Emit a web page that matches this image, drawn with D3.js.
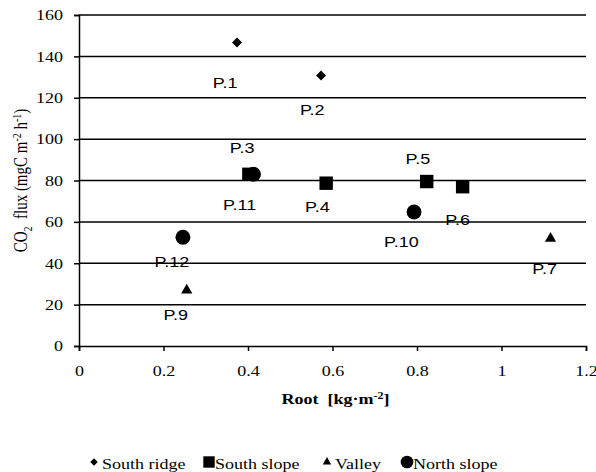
<!DOCTYPE html>
<html>
<head>
<meta charset="utf-8">
<script src="https://cdn.jsdelivr.net/npm/d3@7"></script>
<style>
  body { margin: 0; background: #fff; }
</style>
</head>
<body>
<div id="chart"></div>
<script>
// data
const pointNames = ['P.1', 'P.2', 'P.3', 'P.11', 'P.4', 'P.5', 'P.6', 'P.10', 'P.7', 'P.12', 'P.9'];
const pointGroups = ['South ridge', 'South ridge', 'South slope', 'North slope', 'South slope', 'South slope', 'South slope', 'North slope', 'Valley', 'North slope', 'Valley'];
const rootValues = [0.374, 0.573, 0.402, 0.413, 0.585, 0.823, 0.908, 0.793, 1.116, 0.246, 0.255];
const fluxValues = [146.7, 130.8, 83, 83, 78.7, 79.5, 77, 64.8, 52, 52.6, 27];
// where the point labels sit (data units: centre x, baseline y)
const labelX = [0.346, 0.552, 0.386, 0.380, 0.564, 0.802, 0.896, 0.763, 1.102, 0.220, 0.229];
const labelY = [124.8, 111.8, 93.4, 65.8, 65, 88, 58.5, 48, 34.8, 38.2, 12.6];

const groups = ['South ridge', 'South slope', 'Valley', 'North slope'];
const xTicks = [0, 0.2, 0.4, 0.6, 0.8, 1, 1.2];
const yTicks = [0, 20, 40, 60, 80, 100, 120, 140, 160];

const width = 596, height = 472;
const margin = {top: 15, right: 10, bottom: 126, left: 79};
const stretch = 1.2; // the original picture is a bit wider than tall

const svg = d3.select('#chart')
    .append('svg')
    .attr('width', width)
    .attr('height', height);

const x = d3.scaleLinear()
    .domain([0, 1.2])
    .range([margin.left, width - margin.right]);

const y = d3.scaleLinear()
    .domain([0, 160])
    .range([height - margin.bottom, margin.top]);

const serif = '"Liberation Serif", "Times New Roman", serif';

// gridlines
svg.append('g')
    .selectAll('line')
    .data(yTicks.filter(d => d > 0))
    .join('line')
    .attr('x1', x(0))
    .attr('x2', x(1.2))
    .attr('y1', d => y(d))
    .attr('y2', d => y(d))
    .attr('stroke', '#000')
    .attr('stroke-width', 1.5);

// y axis
const yAxis = svg.append('g')
    .attr('transform', `translate(${x(0)},0)`)
    .call(d3.axisLeft(y).tickValues(yTicks).tickSize(5).tickPadding(11).tickFormat(d3.format('d')));

// x axis
const xAxis = svg.append('g')
    .attr('transform', `translate(0,${y(0)})`)
    .call(d3.axisBottom(x).tickValues(xTicks).tickSize(5).tickPadding(14).tickFormat(d => d));

[yAxis, xAxis].forEach(ax => {
    ax.attr('font-family', serif).attr('font-size', 15);
    ax.select('.domain').attr('stroke', '#000').attr('stroke-width', 1.5);
    ax.selectAll('.tick line').attr('stroke', '#000').attr('stroke-width', 1.5);
    ax.selectAll('.tick text').attr('fill', '#000');
});
// widen tick labels like the original
yAxis.selectAll('.tick text')
    .attr('x', -16 / stretch)
    .attr('transform', `scale(${stretch},1)`);
xAxis.selectAll('.tick text')
    .attr('transform', `scale(${stretch},1)`);

// axis titles
svg.append('text')
    .attr('transform', `translate(${(x(0) + x(1.2)) / 2 + 3},404) scale(${stretch},1)`)
    .attr('text-anchor', 'middle')
    .attr('font-family', serif)
    .attr('font-size', 15)
    .attr('font-weight', 'bold')
    .html('Root&#160;&#160;[kg·m<tspan dy="-5" font-size="10">-2</tspan><tspan dy="5">]</tspan>');

svg.append('text')
    .attr('transform', `translate(27,${(y(0) + y(160)) / 2}) rotate(-90) scale(1,${stretch})`)
    .attr('text-anchor', 'middle')
    .attr('font-family', serif)
    .attr('font-size', 15)
    .html('CO<tspan dy="4" font-size="10">2</tspan><tspan dy="-4">&#160;&#160;flux (mgC m</tspan><tspan dy="-5" font-size="10">-2</tspan><tspan dy="5"> h</tspan><tspan dy="-5" font-size="10">-1</tspan><tspan dy="5">)</tspan>');

// marker shapes per group
function markerPath(group, scale) {
    if (group === 'South ridge') return d3.symbol(d3.symbolSquare, 50 * scale * scale)();
    if (group === 'South slope') return d3.symbol(d3.symbolSquare, 180 * scale * scale)();
    if (group === 'Valley') return d3.symbol(d3.symbolTriangle, 55 * scale * scale)();
    return d3.symbol(d3.symbolCircle, 175 * scale * scale)();
}
const rotation = g => g === 'South ridge' ? 45 : 0;

const points = pointNames.map((name, i) => ({
    name: name,
    group: pointGroups[i],
    root: rootValues[i],
    flux: fluxValues[i],
    lx: labelX[i],
    ly: labelY[i]
}));

// point labels
svg.append('g')
    .selectAll('text')
    .data(points)
    .join('text')
    .attr('transform', d => `translate(${x(d.lx)},${y(d.ly)}) scale(${stretch},1)`)
    .attr('text-anchor', 'middle')
    .attr('font-family', '"Liberation Sans", Arial, sans-serif')
    .attr('font-size', 15)
    .text(d => d.name);

// markers
svg.append('g')
    .selectAll('path')
    .data(points)
    .join('path')
    .attr('d', d => markerPath(d.group, 1))
    .attr('transform', d => `translate(${x(d.root)},${y(d.flux)}) rotate(${rotation(d.group)})`)
    .attr('fill', '#000');

// legend
const legendX = [94, 209, 327, 407];
const legend = svg.append('g')
    .selectAll('g')
    .data(groups)
    .join('g')
    .attr('transform', (d, i) => `translate(${legendX[i]},462)`);

legend.append('path')
    .attr('d', d => markerPath(d, d === 'South slope' || d === 'North slope' ? 0.85 : 0.75))
    .attr('transform', d => `rotate(${rotation(d)})`)
    .attr('fill', '#000');

legend.append('text')
    .attr('transform', d => `translate(${d === 'South slope' ? 6 : d === 'North slope' ? 6 : 8},7) scale(${stretch},1)`)
    .attr('font-family', serif)
    .attr('font-size', 15)
    .text(d => d);
</script>
</body>
</html>
